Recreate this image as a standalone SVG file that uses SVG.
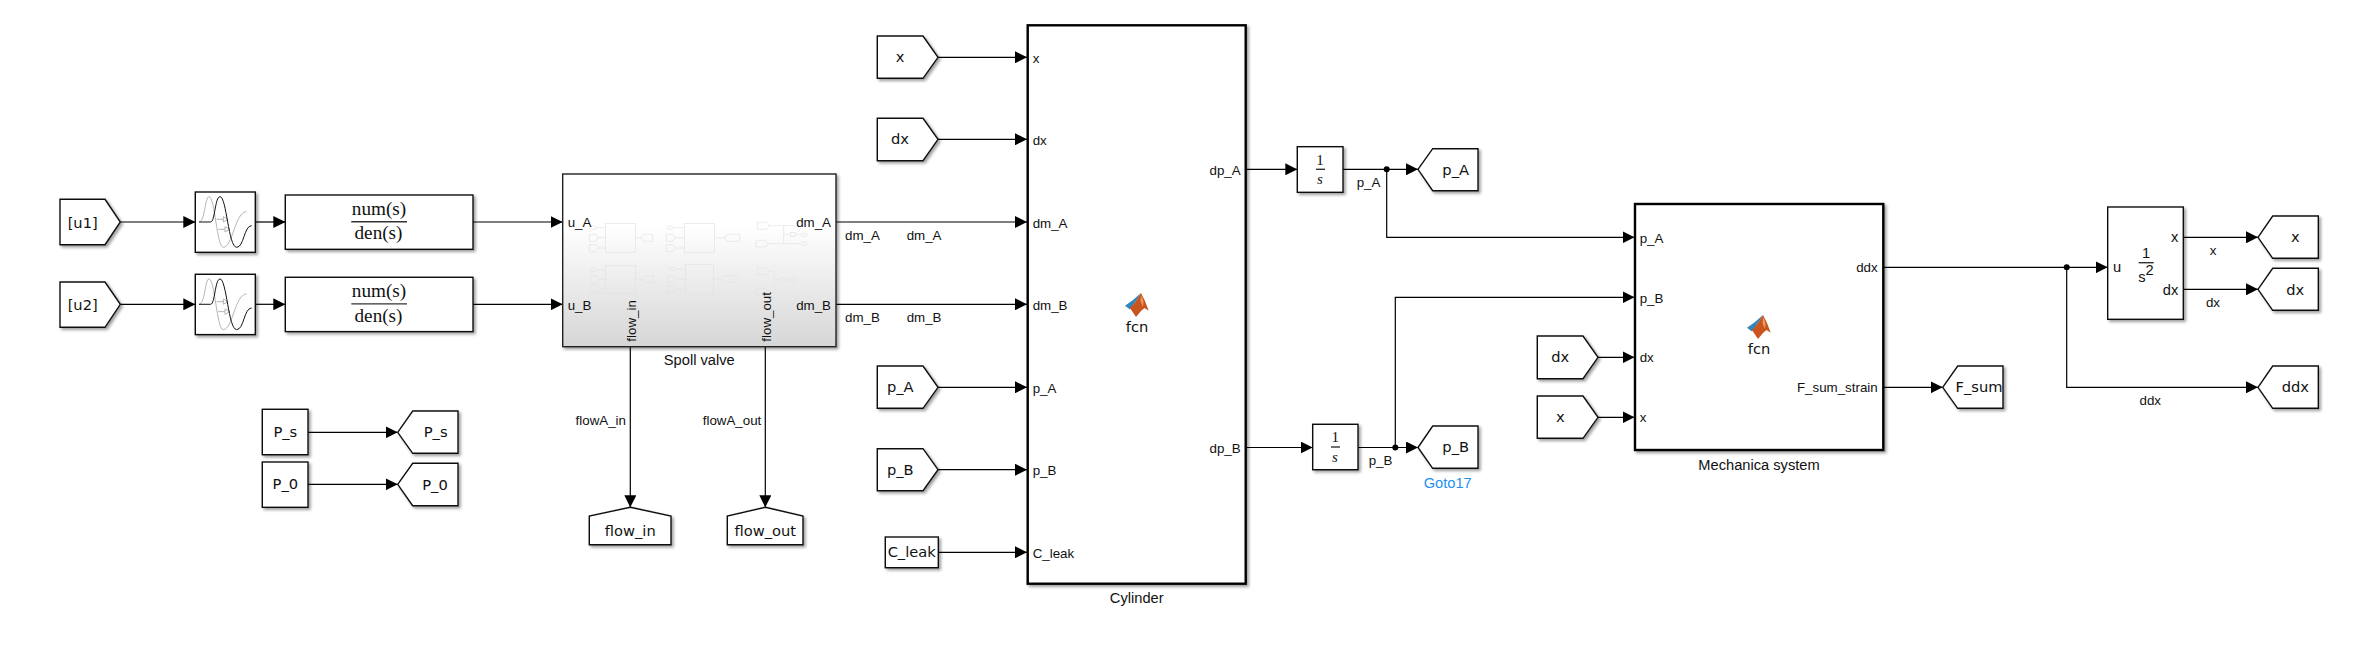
<svg xmlns="http://www.w3.org/2000/svg" width="2363" height="651" viewBox="0 0 2363 651">
<style>
.b{fill:#fff;stroke:#111;stroke-width:1.4;filter:url(#sh)}
.h{fill:#fff;stroke:#000;stroke-width:2.4;filter:url(#sh)}
.g{font:14.67px "DejaVu Sans",sans-serif;fill:#111;text-anchor:middle}
.p{font:13.33px "Liberation Sans",Arial,sans-serif;fill:#111}
.e{text-anchor:end}
.m{text-anchor:middle}
.n{font:14.67px "Liberation Sans",Arial,sans-serif;fill:#111;text-anchor:middle}
.s{font:19.2px "Liberation Serif","Times New Roman",serif;fill:#111;text-anchor:middle}
.i{font:italic 15px "Liberation Serif","Times New Roman",serif;fill:#111;text-anchor:middle}
.c line,.c path{fill:none;stroke:#000;stroke-width:1.2}
.a{marker-end:url(#ar)}
.bar{stroke:#333;stroke-width:1.4}
.ic *{fill:none;stroke:#e2e2e2;stroke-width:2}
</style>
<defs>
<filter id="sh" x="-20%" y="-20%" width="140%" height="140%"><feDropShadow dx="2" dy="2" stdDeviation="1.6" flood-color="#000" flood-opacity=".38"/></filter>
<linearGradient id="gr" x1="0" y1="0" x2="0" y2="1"><stop offset=".3" stop-color="#fff"/><stop offset="1" stop-color="#d6d6d6"/></linearGradient>
<marker id="ar" markerUnits="userSpaceOnUse" markerWidth="12" markerHeight="12" refX="12" refY="6" orient="auto"><path d="M0 0L12 6L0 12z" fill="#000"/></marker>
<g id="delay" fill="none" stroke-width="3">
<path d="M477 186C495 186 495 110 507 110C525 110 530 262 550 262C578 262 585 155 620 155" stroke="#b5b5b5"/>
<path d="M530 178H552M535 208H558" stroke="#b5b5b5"/>
<path d="M550 170L564 178L550 186zM555 200L570 208L555 216z" stroke="#b5b5b5" fill="#fff"/>
<path d="M477 186H512C525 186 525 110 540 110C560 110 565 262 590 262C612 262 612 197 635 197" stroke="#111"/>
</g>
<g id="mat">
<path d="M0 12.7L8 7L16 0L13 5L9 11L5 16.5z" fill="#2f86bd"/>
<path d="M16 0L20 8L23.7 17.7L19.5 15L16 18L11 24L5 15L10 9.5z" fill="#c9541d"/>
<path d="M16 2L18.5 8L18 14L15.5 8z" fill="#ee9a66"/>
</g>
</defs>
<rect width="2363" height="651" fill="#fff"/>

<g id="connectors" class="c">
<line class="a" x1="120.3" y1="222" x2="195.3" y2="222"/>
<line class="a" x1="120.3" y1="304.3" x2="195.3" y2="304.3"/>
<line class="a" x1="255.3" y1="222" x2="285.3" y2="222"/>
<line class="a" x1="255.3" y1="304.3" x2="285.3" y2="304.3"/>
<line class="a" x1="473" y1="222" x2="562.7" y2="222"/>
<line class="a" x1="473" y1="304.3" x2="562.7" y2="304.3"/>
<line class="a" x1="308" y1="432.3" x2="397.7" y2="432.3"/>
<line class="a" x1="308" y1="484.3" x2="397.7" y2="484.3"/>
<line class="a" x1="836" y1="222" x2="1027" y2="222"/>
<line class="a" x1="836" y1="304.3" x2="1027" y2="304.3"/>
<line class="a" x1="630.3" y1="346.7" x2="630.3" y2="507.3"/>
<line class="a" x1="765.3" y1="346.7" x2="765.3" y2="507.3"/>
<line class="a" x1="938" y1="57.3" x2="1027" y2="57.3"/>
<line class="a" x1="938" y1="139.3" x2="1027" y2="139.3"/>
<line class="a" x1="938" y1="387.3" x2="1027" y2="387.3"/>
<line class="a" x1="938" y1="469.7" x2="1027" y2="469.7"/>
<line class="a" x1="938.3" y1="552.3" x2="1027" y2="552.3"/>
<line class="a" x1="1246" y1="169.3" x2="1297.3" y2="169.3"/>
<line class="a" x1="1246" y1="447.5" x2="1312.7" y2="447.5"/>
<line class="a" x1="1343" y1="169.3" x2="1418" y2="169.3"/>
<path class="a" d="M1386.7 169.3V237.3H1634.5"/>
<line class="a" x1="1358" y1="447.5" x2="1418" y2="447.5"/>
<path class="a" d="M1395.3 447.5V297.3H1634.5"/>
<line class="a" x1="1598" y1="357.3" x2="1634.5" y2="357.3"/>
<line class="a" x1="1598" y1="417.3" x2="1634.5" y2="417.3"/>
<line class="a" x1="1883.5" y1="267.3" x2="2107.7" y2="267.3"/>
<path class="a" d="M2066.7 267.3V387.3H2258"/>
<line class="a" x1="1883.5" y1="387.3" x2="1942.7" y2="387.3"/>
<line class="a" x1="2183.3" y1="237.3" x2="2258" y2="237.3"/>
<line class="a" x1="2183.3" y1="289.3" x2="2258" y2="289.3"/>
<circle cx="1386.7" cy="169.3" r="3"/>
<circle cx="1395.3" cy="447.5" r="3"/>
<circle cx="2066.7" cy="267.3" r="3"/>
</g>

<g id="line-labels">
<text class="p" x="845" y="240.3">dm_A</text>
<text class="p" x="906.7" y="240.3">dm_A</text>
<text class="p" x="845" y="322.3">dm_B</text>
<text class="p" x="906.7" y="322.3">dm_B</text>
<text class="p e" x="626" y="425">flowA_in</text>
<text class="p e" x="761.3" y="425">flowA_out</text>
<text class="p" x="1356.7" y="187.3">p_A</text>
<text class="p" x="1368.7" y="465.3">p_B</text>
<text class="p m" x="2213" y="255">x</text>
<text class="p m" x="2213" y="307.3">dx</text>
<text class="p m" x="2150.3" y="405">ddx</text>
</g>

<g id="from-u1"><polygon class="b" points="60,199.3 105,199.3 120.3,222 105,244.7 60,244.7"/><text class="g" x="82.7" y="227.5">[u1]</text></g>
<g id="from-u2"><polygon class="b" points="60,282 105,282 120.3,304.3 105,327.3 60,327.3"/><text class="g" x="82.7" y="310">[u2]</text></g>
<g id="delay1"><rect class="b" x="195.3" y="192" width="60" height="60.3"/><use href="#delay" transform="translate(40 160) scale(.3333)"/></g>
<g id="delay2"><rect class="b" x="195.3" y="274.3" width="60" height="60.3"/><use href="#delay" transform="translate(40 242.3) scale(.3333)"/></g>
<g id="tf1"><rect class="b" x="285.3" y="195" width="187.7" height="54.3"/><text class="s" x="379" y="215">num(s)</text><line class="bar" x1="351.3" y1="221.7" x2="407" y2="221.7"/><text class="s" x="378.5" y="239.3">den(s)</text></g>
<g id="tf2"><rect class="b" x="285.3" y="277.3" width="187.7" height="54.3"/><text class="s" x="379" y="297.3">num(s)</text><line class="bar" x1="351.3" y1="303.9" x2="407" y2="303.9"/><text class="s" x="378.5" y="321.7">den(s)</text></g>
<g id="const-P_s"><rect class="b" x="262.3" y="409.3" width="45.7" height="45.4"/><text class="g" x="285.3" y="437.3">P_s</text></g>
<g id="const-P_0"><rect class="b" x="262.3" y="462" width="45.7" height="45.3"/><text class="g" x="285.3" y="489">P_0</text></g>
<g id="goto-P_s"><polygon class="b" points="397.7,432.3 412.7,411 458,411 458,453.3 412.7,453.3"/><text class="g" x="435.7" y="437.3">P_s</text></g>
<g id="goto-P_0"><polygon class="b" points="397.7,484.3 412.7,463.3 458,463.3 458,505.7 412.7,505.7"/><text class="g" x="435" y="490">P_0</text></g>

<g id="spoll-valve">
<rect x="562.7" y="174" width="273.3" height="172.7" fill="url(#gr)" stroke="#222" stroke-width="1.4" filter="url(#sh)"/>
<g class="ic" transform="translate(555 165) scale(.3333)">
<rect x="151" y="175" width="91" height="88"/><rect x="388" y="175" width="91" height="88"/><rect x="151" y="301" width="91" height="85"/><rect x="392" y="298" width="84" height="90"/>
<ellipse cx="115" cy="188" rx="10" ry="5"/><ellipse cx="345" cy="188" rx="10" ry="5"/><ellipse cx="115" cy="315" rx="10" ry="5"/><ellipse cx="352" cy="312" rx="10" ry="5"/>
<path d="M125 188H151M125 218H151M131 249H151M355 188H388M361 218H388M361 249H388M125 315H151M134 343H151M134 370H151M362 312H392M365 343H392M365 373H392M242 219H257M479 219H508M242 343H260M476 342H497"/>
<path d="M103 208H123L131 218L123 229H103zM103 239H123L131 249L123 260H103zM334 208H353L361 218L353 229H334zM334 239H353L361 249L353 260H334zM107 333H126L134 343L126 353H107zM107 360H126L134 370L126 380H107zM338 333H357L365 343L357 353H338zM338 363H357L365 373L357 383H338z"/>
<path d="M257 219L266 208H293V229H266zM508 219L517 208H554V229H517zM260 343L269 332H296V353H269zM497 342L506 332H543V352H506z"/>
<path d="M607 172H635L643 182L635 193H607zM603 226H632L640 236L632 246H603zM607 310H635L643 319L635 329H607zM603 370H632L640 379L632 389H603z"/>
<path d="M643 182H725M640 236H736M686 182V236M686 208H706M721 208H736M643 319H658M640 379H658M658 319V379M658 345H676M691 345H703"/>
<rect x="706" y="202" width="15" height="12"/><rect x="676" y="339" width="15" height="12"/>
<ellipse cx="747" cy="209" rx="10" ry="5"/><ellipse cx="747" cy="236" rx="10" ry="5"/><ellipse cx="713" cy="345" rx="10" ry="5"/>
</g>
<text class="p" x="567.7" y="227">u_A</text>
<text class="p" x="567.7" y="310">u_B</text>
<text class="p e" x="831" y="227.3">dm_A</text>
<text class="p e" x="831" y="310">dm_B</text>
<text class="p" transform="translate(636 341.7) rotate(-90)">flow_in</text>
<text class="p" transform="translate(771 341.7) rotate(-90)">flow_out</text>
<text class="n" x="699.3" y="365">Spoll valve</text>
</g>
<g id="goto-flow_in"><polygon class="b" points="630.3,507.3 671,516 671,544.7 589.3,544.7 589.3,516"/><text class="g" x="630.3" y="535.7">flow_in</text></g>
<g id="goto-flow_out"><polygon class="b" points="765.3,507.3 803,516 803,544.7 727.3,544.7 727.3,516"/><text class="g" x="765.3" y="535.7">flow_out</text></g>

<g id="from-x"><polygon class="b" points="877.3,36 923,36 938,57.3 923,78.3 877.3,78.3"/><text class="g" x="900" y="62">x</text></g>
<g id="from-dx"><polygon class="b" points="877.3,118.3 923,118.3 938,139.3 923,160.7 877.3,160.7"/><text class="g" x="900" y="144.3">dx</text></g>
<g id="from-p_A"><polygon class="b" points="877.3,366 923,366 938,387.3 923,408.3 877.3,408.3"/><text class="g" x="900.3" y="392.3">p_A</text></g>
<g id="from-p_B"><polygon class="b" points="877.3,448.7 923,448.7 938,469.7 923,490.7 877.3,490.7"/><text class="g" x="900.3" y="475">p_B</text></g>
<g id="const-C_leak"><rect class="b" x="885.3" y="537" width="53" height="30.7"/><text class="g" x="911.7" y="557.3">C_leak</text></g>

<g id="cylinder">
<rect class="h" x="1027.7" y="25.3" width="218" height="558.4"/>
<use href="#mat" transform="translate(1125 293)"/>
<text class="g" x="1137" y="332">fcn</text>
<text class="p" x="1032.7" y="63">x</text>
<text class="p" x="1032.7" y="145">dx</text>
<text class="p" x="1032.7" y="228">dm_A</text>
<text class="p" x="1032.7" y="310">dm_B</text>
<text class="p" x="1032.7" y="393.3">p_A</text>
<text class="p" x="1032.7" y="475.3">p_B</text>
<text class="p" x="1032.7" y="558.3">C_leak</text>
<text class="p e" x="1240.7" y="175.3">dp_A</text>
<text class="p e" x="1240.7" y="453.3">dp_B</text>
<text class="n" x="1136.7" y="602.7">Cylinder</text>
</g>

<g id="int-A"><rect class="b" x="1297.3" y="146.7" width="45.7" height="45.6"/><text class="i" x="1320" y="164.7" style="font-style:normal">1</text><line class="bar" x1="1316" y1="169.3" x2="1325" y2="169.3"/><text class="i" x="1320" y="184">s</text></g>
<g id="int-B"><rect class="b" x="1312.7" y="424.3" width="45.3" height="45.4"/><text class="i" x="1335.3" y="442.3" style="font-style:normal">1</text><line class="bar" x1="1331" y1="447" x2="1340" y2="447"/><text class="i" x="1335" y="462">s</text></g>
<g id="goto-p_A"><polygon class="b" points="1418,169.3 1432.7,148.7 1478,148.7 1478,190.7 1432.7,190.7"/><text class="g" x="1455.7" y="175">p_A</text></g>
<g id="goto-p_B"><polygon class="b" points="1418,447.5 1432.7,426 1478,426 1478,468.3 1432.7,468.3"/><text class="g" x="1455.7" y="452">p_B</text><text x="1447.7" y="488" style="font:14.67px 'Liberation Sans',Arial,sans-serif;fill:#1e90f0;text-anchor:middle">Goto17</text></g>

<g id="from-dx2"><polygon class="b" points="1537.3,336 1583,336 1598,357.3 1583,378.7 1537.3,378.7"/><text class="g" x="1560.3" y="362">dx</text></g>
<g id="from-x2"><polygon class="b" points="1537.3,396 1583,396 1598,417.3 1583,438.3 1537.3,438.3"/><text class="g" x="1560.3" y="422">x</text></g>

<g id="mechanical-system">
<rect class="h" x="1635" y="204" width="248.3" height="246"/>
<use href="#mat" transform="translate(1747 315)"/>
<text class="g" x="1759" y="354">fcn</text>
<text class="p" x="1639.7" y="242.7">p_A</text>
<text class="p" x="1639.7" y="302.7">p_B</text>
<text class="p" x="1639.7" y="362">dx</text>
<text class="p" x="1639.7" y="422">x</text>
<text class="p e" x="1877.7" y="272.3">ddx</text>
<text class="p e" x="1877.7" y="392">F_sum_strain</text>
<text class="n" x="1759" y="470">Mechanica system</text>
</g>
<g id="goto-F_sum"><polygon class="b" points="1942.7,387.3 1957.7,366 2003,366 2003,408.3 1957.7,408.3"/><text class="g" x="1979" y="392">F_sum</text></g>

<g id="double-integrator">
<rect class="b" x="2107.7" y="207" width="75.6" height="112.3"/>
<text class="n" x="2146" y="257.7">1</text>
<line class="bar" x1="2138.7" y1="262.7" x2="2153.7" y2="262.7"/>
<text class="n" x="2146" y="281.7">s<tspan dy="-7">2</tspan></text>
<text class="n" style="text-anchor:start" x="2113" y="271.7">u</text>
<text class="n" style="text-anchor:end" x="2178.3" y="242">x</text>
<text class="n" style="text-anchor:end" x="2178.3" y="295">dx</text>
</g>
<g id="goto-x"><polygon class="b" points="2258,237.3 2272.7,216 2318.3,216 2318.3,258.3 2272.7,258.3"/><text class="g" x="2295.3" y="242">x</text></g>
<g id="goto-dx"><polygon class="b" points="2258,289.3 2272.7,268.3 2318.3,268.3 2318.3,310.3 2272.7,310.3"/><text class="g" x="2295.3" y="294.7">dx</text></g>
<g id="goto-ddx"><polygon class="b" points="2258,387.3 2272.7,366 2318.3,366 2318.3,408.3 2272.7,408.3"/><text class="g" x="2295.3" y="392">ddx</text></g>
</svg>
